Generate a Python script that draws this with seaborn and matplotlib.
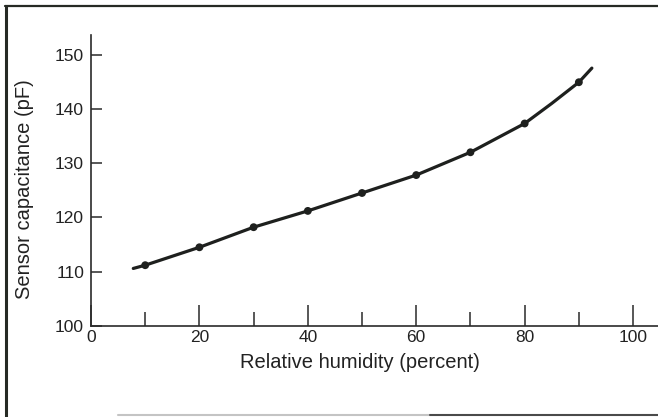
import matplotlib
matplotlib.use("Agg")
import matplotlib.pyplot as plt
from matplotlib.lines import Line2D
from matplotlib.ticker import MultipleLocator
import seaborn as sns
import pandas as pd

# Measured sensor capacitance at each relative humidity step
humidity = [10, 20, 30, 40, 50, 60, 70, 80, 90]
capacitance = [111.2, 114.5, 118.2, 121.2, 124.5, 127.8, 132.0, 137.3, 144.9]

# Fitted response curve traced through the measurements
curve_humidity = [7.8, 10, 20, 30, 40, 50, 60, 70, 80, 85, 90, 92.4]
curve_capacitance = [110.6, 111.2, 114.5, 118.2, 121.2, 124.5, 127.8,
                     132.0, 137.3, 141.0, 144.9, 147.5]

x_major = [0, 20, 40, 60, 80, 100]
x_minor = [10, 30, 50, 70, 90]
y_ticks = [100, 110, 120, 130, 140, 150]

points = pd.DataFrame({"humidity": humidity, "capacitance": capacitance})
curve = pd.DataFrame({"humidity": curve_humidity, "capacitance": curve_capacitance})

sns.set_style("ticks")
plt.rcParams["font.family"] = ["Liberation Sans", "DejaVu Sans"]

ink = "#1e201e"
W, H = 658, 417
fig = plt.figure(figsize=(W / 100, H / 100), dpi=100)
ax = fig.add_axes([91 / W, 91 / H, (W - 91) / W, 291 / H])

sns.lineplot(data=curve, x="humidity", y="capacitance", ax=ax,
             color=ink, linewidth=2.3, sort=False, estimator=None)
sns.scatterplot(data=points, x="humidity", y="capacitance", ax=ax,
                color=ink, s=32, edgecolor="none", zorder=3)

ax.set_xlim(0, 104.6)
ax.set_ylim(100, 153.6)
ax.set_xticks(x_major)
ax.set_xticks(x_minor, minor=True)
ax.set_yticks(y_ticks)
ax.yaxis.set_minor_locator(MultipleLocator(100))

for s in ("top", "right"):
    ax.spines[s].set_visible(False)
for s in ("left", "bottom"):
    ax.spines[s].set_color("#2a2a2a")
    ax.spines[s].set_linewidth(1.2)

ax.tick_params(axis="x", which="major", direction="in", length=15,
               width=1.1, color="#2a2a2a", pad=3, labelsize=12.5, labelcolor="#222")
ax.tick_params(axis="x", which="minor", direction="in", length=10,
               width=1.1, color="#2a2a2a")
ax.tick_params(axis="y", which="major", direction="in", length=8,
               width=1.1, color="#2a2a2a", pad=5, labelsize=12.5, labelcolor="#222")
ax.tick_params(axis="y", which="minor", length=0)

ax.set_xlabel("Relative humidity (percent)", fontsize=14.5, color="#222")
ax.set_ylabel("Sensor capacitance (pF)", fontsize=14.5, color="#222")
ax.xaxis.set_label_coords(0.4735, -0.092)
ax.yaxis.set_label_coords(-0.118, 0.47)
ax.yaxis.label.set_va("center")

# Page frame around the figure
fig.add_artist(Line2D([5 / W, 1], [1 - 6 / H, 1 - 6 / H], transform=fig.transFigure,
                      color="#262a24", linewidth=1.6))
fig.add_artist(Line2D([6 / W, 6 / W], [0, 1 - 6 / H], transform=fig.transFigure,
                      color="#262a24", linewidth=2.2))
fig.add_artist(Line2D([118 / W, 430 / W], [2 / H, 2 / H], transform=fig.transFigure,
                      color="#c4c4c4", linewidth=1.5))
fig.add_artist(Line2D([430 / W, 1], [2 / H, 2 / H], transform=fig.transFigure,
                      color="#4a4a4a", linewidth=1.5))

fig.savefig("out.png", dpi=100, facecolor="white")
